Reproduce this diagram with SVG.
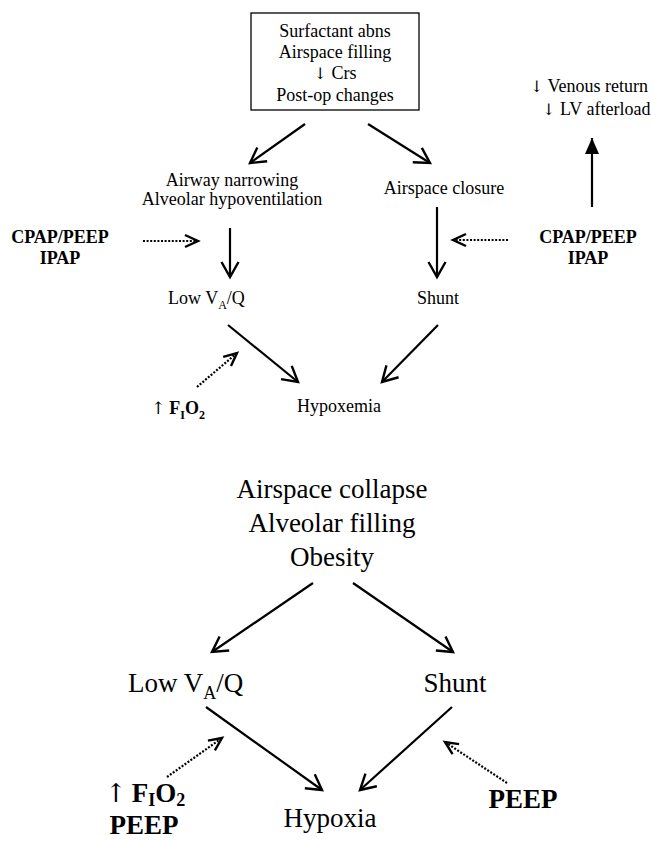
<svg xmlns="http://www.w3.org/2000/svg" width="652" height="841" viewBox="0 0 652 841">
<style>
text{font-family:"Liberation Serif","Times New Roman",serif;fill:#000}
.s{font-size:18px}
.b{font-size:18px;font-weight:bold}
.L{font-size:27px}
.LB{font-size:27px;font-weight:bold}
.ar{font-family:"DejaVu Serif",serif;font-weight:normal;fill:#000}
.sol{stroke:#000;stroke-width:2.2;fill:none}
.dot{stroke:#000;stroke-width:2.2;fill:none;stroke-dasharray:2 1.6}
</style>
<defs>
<marker id="v" markerUnits="userSpaceOnUse" viewBox="-20 -12 24 24" refX="0" refY="0" markerWidth="24" markerHeight="24" orient="auto">
<path d="M-15,-8.5 L0,0 L-15,8.5" fill="none" stroke="#000" stroke-width="2.4"/>
</marker>
<marker id="vd" markerUnits="userSpaceOnUse" viewBox="-20 -12 24 24" refX="0" refY="0" markerWidth="24" markerHeight="24" orient="auto">
<path d="M-13,-6 L0,0 L-13,6" fill="none" stroke="#000" stroke-width="2.4"/>
</marker>
<marker id="f" markerUnits="userSpaceOnUse" viewBox="-20 -12 24 24" refX="0" refY="0" markerWidth="24" markerHeight="24" orient="auto">
<path d="M-16,-7 L0,0 L-16,7 Z" fill="#000"/>
</marker>
</defs>

<g id="top-cause">
<rect x="251" y="13" width="168" height="97" fill="#fff" stroke="#000" stroke-width="1.3"/>
<text class="s" x="335" y="37" text-anchor="middle">Surfactant abns</text>
<text class="s" x="335" y="58" text-anchor="middle">Airspace filling</text>
<text class="s" x="335" y="79" text-anchor="middle"><tspan class="ar" font-size="16">↓</tspan> Crs</text>
<text class="s" x="335" y="101" text-anchor="middle">Post-op changes</text>
</g>
<g id="top-hemo">
<text class="s" x="648" y="92" text-anchor="end"><tspan class="ar" font-size="16">↓</tspan> Venous return</text>
<text class="s" x="542" y="115"><tspan class="ar" font-size="16">↓</tspan> LV afterload</text>
</g>
<g id="top-airway">
<text class="s" x="232" y="186" text-anchor="middle">Airway narrowing</text>
<text class="s" x="232" y="205" text-anchor="middle">Alveolar hypoventilation</text>
</g>
<g id="top-closure">
<text class="s" x="444" y="194" text-anchor="middle">Airspace closure</text>
</g>
<g id="top-cpap-left">
<text class="b" x="60" y="243" text-anchor="middle">CPAP/PEEP</text>
<text class="b" x="60" y="264" text-anchor="middle">IPAP</text>
</g>
<g id="top-cpap-right">
<text class="b" x="588" y="243" text-anchor="middle">CPAP/PEEP</text>
<text class="b" x="588" y="264" text-anchor="middle">IPAP</text>
</g>
<g id="top-lowvq">
<text class="s" x="168" y="304">Low V<tspan font-size="12" dy="5">A</tspan><tspan dy="-5">/Q</tspan></text>
</g>
<g id="top-shunt">
<text class="s" x="438" y="304" text-anchor="middle">Shunt</text>
</g>
<g id="top-fio2">
<text class="b" x="151" y="414"><tspan class="ar" font-size="17">↑</tspan><tspan dx="4">F</tspan><tspan font-size="12" dy="5">I</tspan><tspan dy="-5">O</tspan><tspan font-size="12" dy="5">2</tspan></text>
</g>
<g id="top-hypoxemia">
<text class="s" x="339" y="412" text-anchor="middle">Hypoxemia</text>
</g>

<g id="bottom-cause">
<text class="L" x="332" y="498" text-anchor="middle">Airspace collapse</text>
<text class="L" x="332" y="532" text-anchor="middle">Alveolar filling</text>
<text class="L" x="332" y="566" text-anchor="middle">Obesity</text>
</g>
<g id="bottom-lowvq">
<text class="L" x="128" y="692">Low V<tspan font-size="18" dy="7">A</tspan><tspan dy="-7">/Q</tspan></text>
</g>
<g id="bottom-shunt">
<text class="L" x="455" y="692" text-anchor="middle">Shunt</text>
</g>
<g id="bottom-fio2">
<text class="LB" x="105" y="802"><tspan class="ar" font-size="26">↑</tspan><tspan dx="5">F</tspan><tspan font-size="18" dy="4">I</tspan><tspan dy="-4">O</tspan><tspan font-size="18" dy="4">2</tspan></text>
<text class="LB" x="144" y="834" text-anchor="middle">PEEP</text>
</g>
<g id="bottom-hypoxia">
<text class="L" x="330" y="827" text-anchor="middle">Hypoxia</text>
</g>
<g id="bottom-peep">
<text class="LB" x="523" y="808" text-anchor="middle">PEEP</text>
</g>

<g id="connectors">
<line class="sol" x1="305" y1="124" x2="250" y2="163" marker-end="url(#v)"/>
<line class="sol" x1="368" y1="124" x2="430" y2="163" marker-end="url(#v)"/>
<line class="sol" x1="592" y1="207" x2="592" y2="138" marker-end="url(#f)"/>
<line class="sol" x1="230" y1="228" x2="230" y2="277" marker-end="url(#v)"/>
<line class="sol" x1="437" y1="207" x2="437" y2="277" marker-end="url(#v)"/>
<line class="dot" x1="143" y1="241" x2="198" y2="241" marker-end="url(#vd)"/>
<line class="dot" x1="508" y1="240" x2="453" y2="240" marker-end="url(#vd)"/>
<line class="sol" x1="228" y1="325" x2="298" y2="382" marker-end="url(#v)"/>
<line class="sol" x1="438" y1="325" x2="382" y2="382" marker-end="url(#v)"/>
<line class="dot" x1="197" y1="387" x2="237" y2="353" marker-end="url(#vd)"/>

<line class="sol" x1="313" y1="583" x2="212" y2="652" marker-end="url(#v)"/>
<line class="sol" x1="353" y1="583" x2="453" y2="652" marker-end="url(#v)"/>
<line class="sol" x1="206" y1="707" x2="322" y2="790" marker-end="url(#v)"/>
<line class="sol" x1="452" y1="707" x2="360" y2="790" marker-end="url(#v)"/>
<line class="dot" x1="167" y1="777" x2="222" y2="738" marker-end="url(#vd)"/>
<line class="dot" x1="507" y1="783" x2="445" y2="742" marker-end="url(#vd)"/>
</g>
</svg>
